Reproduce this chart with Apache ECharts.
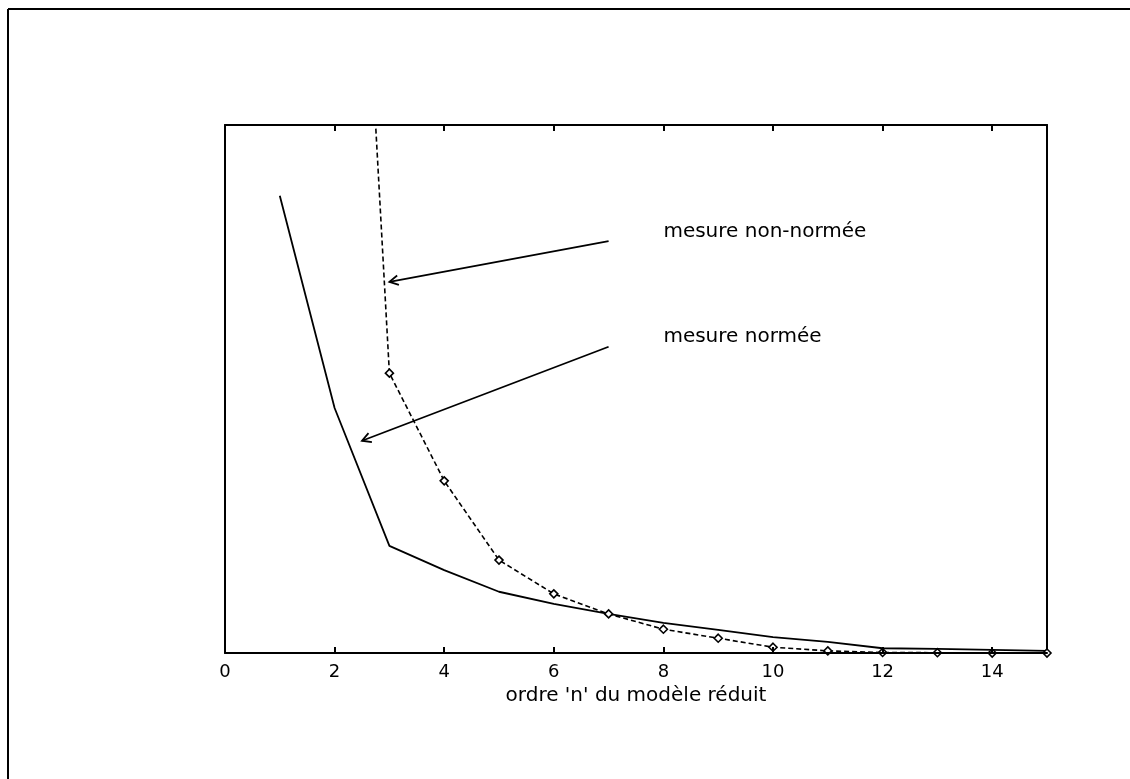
<!DOCTYPE html>
<html>
<head>
<meta charset="utf-8">
<script src="https://cdn.jsdelivr.net/npm/echarts@6/dist/echarts.min.js"></script>
<style>
  html, body { margin: 0; padding: 0; background: #fff; }
  #chart { width: 1130px; height: 779px; }
</style>
</head>
<body>
<div id="chart"></div>
<script>
// Order n of the reduced model
const orders = [1, 2, 3, 4, 5, 6, 7, 8, 9, 10, 11, 12, 13, 14, 15];
// Normalised measure (solid curve)
const mesureNormee = [8.66, 4.64, 2.03, 1.57, 1.16, 0.93, 0.74, 0.57, 0.44, 0.30, 0.21, 0.09, 0.08, 0.06, 0.04];
// Non-normalised measure (dashed curve with diamonds), starts at order 2
const ordersNonNormee = [2, 3, 4, 5, 6, 7, 8, 9, 10, 11, 12, 13, 14, 15];
const mesureNonNormee = [24.0, 5.30, 3.26, 1.76, 1.12, 0.74, 0.45, 0.28, 0.11, 0.04, 0.01, 0.005, 0.0, 0.0];

// X axis range and tick spacing
const xMin = 0, xMax = 15, xStep = 2;
const yMin = 0, yMax = 10;

// Annotations: label text, label anchor, arrow start and arrow tip (data units)
const annotationText = ['mesure non-normée', 'mesure normée'];
const annotationAt = [[8, 7.97], [8, 5.98]];
const arrowFrom = [[7, 7.8], [7, 5.8]];
const arrowTo = [[3.0, 7.03], [2.5, 4.02]];

const FONT = '"DejaVu Sans", "Liberation Sans", sans-serif';

const chart = echarts.init(document.getElementById('chart'), null, { renderer: 'canvas' });

function renderAnnotation(params, api) {
  const i = params.dataIndex;
  const p0 = api.coord(arrowFrom[i]);
  const p1 = api.coord(arrowTo[i]);
  const ang = Math.atan2(p0[1] - p1[1], p0[0] - p1[0]);
  const len = 10, spread = 0.5;
  const a1 = [p1[0] + len * Math.cos(ang + spread), p1[1] + len * Math.sin(ang + spread)];
  const a2 = [p1[0] + len * Math.cos(ang - spread), p1[1] + len * Math.sin(ang - spread)];
  const t = api.coord(annotationAt[i]);
  return {
    type: 'group',
    children: [
      { type: 'line', shape: { x1: p0[0], y1: p0[1], x2: p1[0], y2: p1[1] },
        style: { stroke: '#000', lineWidth: 1.8 } },
      { type: 'polyline', shape: { points: [a1, p1, a2] },
        style: { stroke: '#000', lineWidth: 1.8, fill: null } },
      { type: 'text',
        style: { text: annotationText[i], x: t[0], y: t[1], fill: '#000',
                 font: '20px ' + FONT, align: 'left', verticalAlign: 'middle' } }
    ]
  };
}

function axisLine() {
  return { show: true, onZero: false, lineStyle: { color: '#000', width: 2 } };
}
function innerTicks() {
  return { show: true, inside: true, length: 6, lineStyle: { color: '#000', width: 2 } };
}

const option = {
  animation: false,
  backgroundColor: '#fff',
  grid: { left: 225, right: 83, top: 125, bottom: 126, containLabel: false },
  xAxis: [
    {
      type: 'value', position: 'bottom', min: xMin, max: xMax, interval: xStep,
      name: "ordre 'n' du modèle réduit", nameLocation: 'middle', nameGap: 26,
      nameTextStyle: { color: '#000', fontFamily: FONT, fontSize: 20 },
      axisLine: axisLine(),
      axisTick: innerTicks(),
      axisLabel: { show: true, inside: false, color: '#000', fontFamily: FONT, fontSize: 18, margin: 10, showMaxLabel: false },
      splitLine: { show: false },
      z: 10
    },
    {
      type: 'value', position: 'top', min: xMin, max: xMax, interval: xStep,
      axisLine: axisLine(),
      axisTick: innerTicks(),
      axisLabel: { show: false },
      splitLine: { show: false },
      z: 10
    }
  ],
  yAxis: [
    {
      type: 'value', position: 'left', min: yMin, max: yMax,
      axisLine: axisLine(),
      axisTick: { show: false }, axisLabel: { show: false }, splitLine: { show: false }
    },
    {
      type: 'value', position: 'right', min: yMin, max: yMax,
      axisLine: axisLine(),
      axisTick: { show: false }, axisLabel: { show: false }, splitLine: { show: false }
    }
  ],
  graphic: [
    // outer frame of the figure
    { type: 'line', shape: { x1: 8, y1: 9, x2: 1130, y2: 9 }, style: { stroke: '#000', lineWidth: 2 } },
    { type: 'line', shape: { x1: 8, y1: 9, x2: 8, y2: 779 }, style: { stroke: '#000', lineWidth: 2 } }
  ],
  series: [
    {
      name: 'mesure normée', type: 'line', xAxisIndex: 0, yAxisIndex: 0,
      data: orders.map((x, i) => [x, mesureNormee[i]]),
      showSymbol: false, symbol: 'none',
      lineStyle: { color: '#000', width: 1.8, type: 'solid' },
      clip: true, z: 3
    },
    {
      name: 'mesure non-normée', type: 'line', xAxisIndex: 0, yAxisIndex: 0,
      data: ordersNonNormee.map((x, i) => [x, mesureNonNormee[i]]),
      symbol: 'diamond', symbolSize: 8, showSymbol: true,
      itemStyle: { color: '#fff', borderColor: '#000', borderWidth: 1.6 },
      lineStyle: { color: '#000', width: 1.6, type: [5, 3] },
      clip: true, z: 4
    },
    {
      type: 'custom', xAxisIndex: 0, yAxisIndex: 0, clip: false,
      data: annotationText.map((_, i) => [i]),
      renderItem: renderAnnotation, z: 5, silent: true
    }
  ]
};

chart.setOption(option);
</script>
</body>
</html>
